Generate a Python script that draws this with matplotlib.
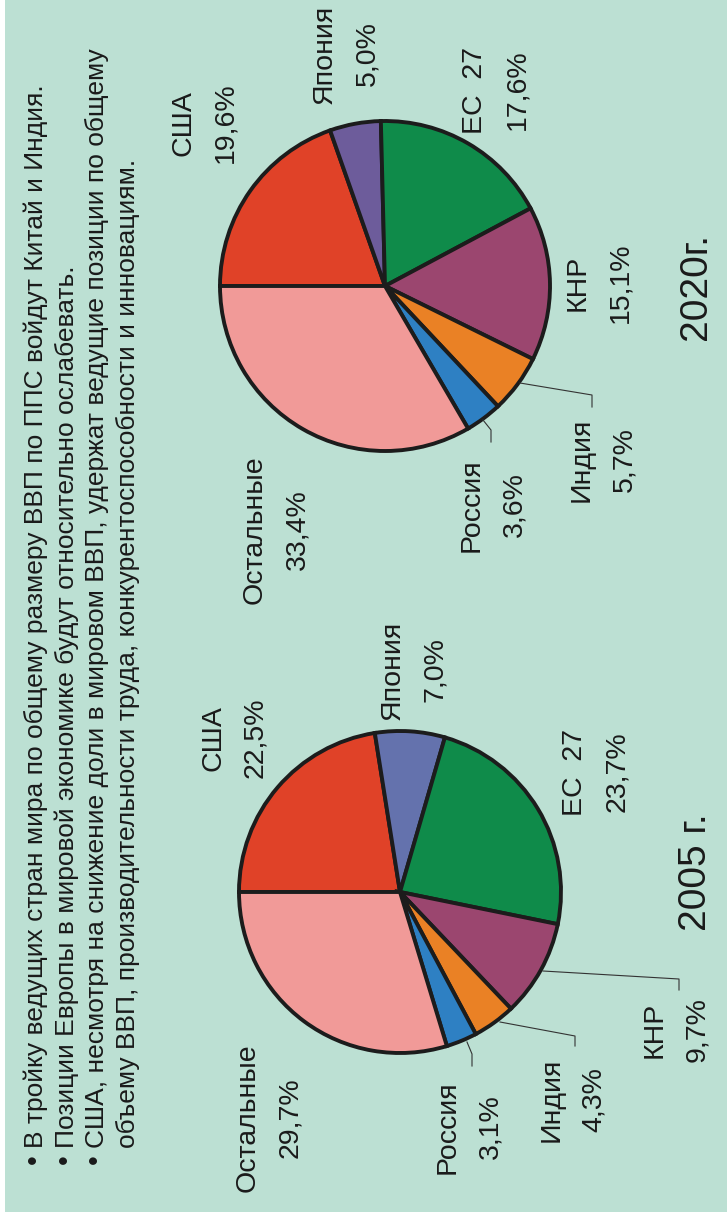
import matplotlib.pyplot as plt
from matplotlib.patches import Rectangle

plt.rcParams['font.family'] = ['Liberation Sans', 'DejaVu Sans']

W, H = 727, 1212

# data
countries = ['США', 'Япония', 'ЕС  27', 'КНР', 'Индия', 'Россия', 'Остальные']
share_2005 = [22.5, 7.0, 23.7, 9.7, 4.3, 3.1, 29.7]
share_2020 = [19.6, 5.0, 17.6, 15.1, 5.7, 3.6, 33.4]
year_labels = ['2005 г.', '2020г.']

colors_2005 = ['#e04228', '#6472ad', '#0f8b4a', '#9b466f', '#ea8125', '#2e80c3', '#f19a98']
colors_2020 = ['#e04228', '#6d5c9b', '#0f8b4a', '#9b466f', '#ea8125', '#2e80c3', '#f19a98']

bullets = [
    'В тройку ведущих стран мира по общему размеру ВВП по ППС войдут Китай и Индия.',
    'Позиции Европы в мировой экономике будут относительно ослабевать.',
    'США, несмотря на снижение доли в мировом ВВП, удержат ведущие позиции по общему',
    'объему ВВП, производительности труда, конкурентоспособности и инновациям.',
]
has_bullet = [True, True, True, False]

# label layout in picture pixels (x, y from top)
lab_2005 = [(213, 738), (393, 670), (575, 772), (655, 1030), (552, 1100), (448, 1127), (248, 1118)]
lab_2020 = [(183, 123), (325, 54), (475, 90), (578, 283), (582, 460), (472, 505), (255, 530)]

fig = plt.figure(figsize=(W / 100, H / 100), dpi=100)
fig.patch.set_facecolor('white')
ax = fig.add_axes([0, 0, 1, 1])


def y(v):
    return H - v


ax.add_patch(Rectangle((5, 0), W - 5, H, facecolor='#bce0d3', edgecolor='none', zorder=0))

for vals, cols, (cx, cy), r in [(share_2005, colors_2005, (400, 892), 161),
                                (share_2020, colors_2020, (385, 286), 165)]:
    ax.pie(vals, colors=cols, startangle=180, counterclock=False,
           center=(cx, y(cy)), radius=r,
           wedgeprops=dict(edgecolor='#1c1c1c', linewidth=2.8), frame=True)

# leader lines
leaders = [
    [(543, 971), (679, 979), (679, 990)],
    [(500, 1022), (575, 1036), (575, 1046)],
    [(467, 1042), (472, 1054), (472, 1066)],
    [(520, 383), (592, 395), (592, 407)],
    [(483, 420), (491, 430), (491, 442)],
]
for pts in leaders:
    ax.plot([p[0] for p in pts], [y(p[1]) for p in pts], color='#333333', lw=0.8, zorder=3)

fs = 20.5
for names, vals, labs in [(countries, share_2005, lab_2005), (countries, share_2020, lab_2020)]:
    for name, v, (lx, ly) in zip(names, vals, labs):
        ax.text(lx, y(ly), name, rotation=90, ha='center', va='center', fontsize=fs, color='#1a1a1a')
        ax.text(lx + 42, y(ly), f'{v:.1f}%'.replace('.', ','), rotation=90,
                ha='center', va='center', fontsize=fs, color='#1a1a1a')

ax.text(696, y(872), year_labels[0], rotation=90, ha='center', va='center', fontsize=28, color='#1a1a1a')
ax.text(696, y(286), year_labels[1], rotation=90, ha='center', va='center', fontsize=28, color='#1a1a1a')

for i, (line, b) in enumerate(zip(bullets, has_bullet)):
    lx = 36 + i * 30.5
    if b:
        ax.text(lx - 2, y(1159), '•', rotation=90, ha='center', va='center',
                fontsize=20, color='#1a1a1a')
    ax.text(lx, y(1148), line, rotation=90, ha='center', va='bottom',
            fontsize=19, color='#1a1a1a')

ax.set_xlim(0, W)
ax.set_ylim(0, H)
ax.set_aspect('auto')
ax.axis('off')
fig.savefig('out.png', dpi=100)
